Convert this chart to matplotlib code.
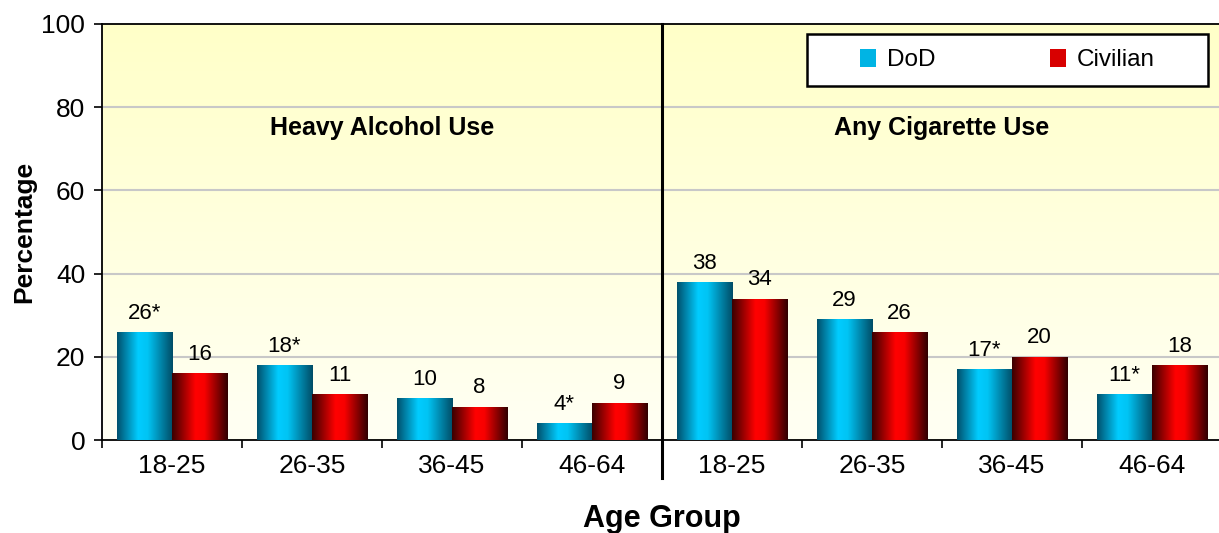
import numpy as np
import matplotlib.pyplot as plt
from matplotlib.colors import LinearSegmentedColormap
from matplotlib.patches import Rectangle

plt.rcParams['font.family'] = ['Liberation Sans', 'DejaVu Sans']

# Data
age_groups = ['18-25', '26-35', '36-45', '46-64']
panels = ['Heavy Alcohol Use', 'Any Cigarette Use']
dod = [26, 18, 10, 4, 38, 29, 17, 11]
civilian = [16, 11, 8, 9, 34, 26, 20, 18]
dod_labels = ['26*', '18*', '10', '4*', '38', '29', '17*', '11*']
civ_labels = ['16', '11', '8', '9', '34', '26', '20', '18']

# horizontal shading for the bars: dark edge -> bright -> dark edge
cyan_cm = LinearSegmentedColormap.from_list(
    'cyan_bar', [(0, '#00506c'), (0.38, '#00ccff'), (0.55, '#00c4f4'), (1, '#004c66')])
red_cm = LinearSegmentedColormap.from_list(
    'red_bar', [(0, '#3a0000'), (0.42, '#ff0000'), (0.58, '#f80000'), (1, '#300000')])
grad = np.linspace(0, 1, 256).reshape(1, -1)

W, H = 1219, 533
fig = plt.figure(figsize=(W / 100, H / 100), dpi=100)
ax = fig.add_axes([102 / W, 93 / H, 1120 / W, 416 / H])

# pale yellow background, fading downwards
bg_cm = LinearSegmentedColormap.from_list('bg', ['#fffff4', '#ffffc8'])
ax.imshow(np.linspace(0, 1, 256).reshape(-1, 1), cmap=bg_cm, origin='lower',
          extent=[0, 1, 0, 1], transform=ax.transAxes, aspect='auto', zorder=0)

x = np.arange(len(dod))
w = 0.393


def shaded_bars(xs, vals, cmap):
    bars = ax.bar(xs, vals, w, color='none', edgecolor='none', zorder=3)
    for b in bars:
        x0, y0 = b.get_x(), b.get_y()
        im = ax.imshow(grad, cmap=cmap, aspect='auto', zorder=3,
                       extent=[x0, x0 + b.get_width(), y0, y0 + b.get_height()])
        im.set_clip_path(b)
    return bars


shaded_bars(x - w / 2, dod, cyan_cm)
shaded_bars(x + w / 2, civilian, red_cm)

for xi, v, s in zip(x, dod, dod_labels):
    ax.text(xi - w / 2, v + 2, s, ha='center', va='bottom', fontsize=16, zorder=4)
for xi, v, s in zip(x, civilian, civ_labels):
    ax.text(xi + w / 2, v + 2, s, ha='center', va='bottom', fontsize=16, zorder=4)

ax.set_xlim(-0.5, len(dod) - 0.5)
ax.set_ylim(0, 100)
ax.set_yticks(range(0, 101, 20))
ax.set_xticks(x)
ax.set_xticklabels(age_groups * 2)
ax.set_xticks(np.arange(-0.5, len(dod), 1.0), minor=True)
ax.tick_params(axis='x', which='major', length=0, pad=10, labelsize=19)
ax.tick_params(axis='x', which='minor', length=6, width=1.2)
ax.tick_params(axis='y', length=6, width=1.2, labelsize=19, pad=6)
for yv in range(20, 100, 20):
    ax.axhline(yv, color='#c8c8c8', lw=1.5, zorder=1)

for sp in ax.spines.values():
    sp.set_linewidth(1.3)
ax.spines['right'].set_visible(False)

# divider between the two panels
ax.axvline(3.5, ymin=-0.092, ymax=1, color='black', lw=2.2, clip_on=False, zorder=5)

ax.text(1.5, 75, panels[0], ha='center', va='center', fontsize=18, fontweight='bold')
ax.text(5.5, 75, panels[1], ha='center', va='center', fontsize=18, fontweight='bold')

ax.set_ylabel('Percentage', fontsize=19, fontweight='bold', labelpad=4)
ax.set_xlabel('Age Group', fontsize=22, fontweight='bold', labelpad=19)

# legend box drawn separately so it can be wider than the entries
bx0, bx1 = (807 - 102) / 1120, (1208 - 102) / 1120
by0, by1 = (440 - 86) / 416, (440 - 34) / 416
ax.add_patch(Rectangle((bx0, by0), bx1 - bx0, by1 - by0, transform=ax.transAxes,
                       facecolor='white', edgecolor='black', lw=1.8, zorder=6))
handles = [Rectangle((0, 0), 1, 1, facecolor='#00b4e4'),
           Rectangle((0, 0), 1, 1, facecolor='#d80000')]
leg = ax.legend(handles, ['DoD', 'Civilian'], loc='center', ncol=2,
                bbox_to_anchor=((bx0 + bx1) / 2, (by0 + by1) / 2), fontsize=17.5,
                frameon=False, handlelength=0.65, handleheight=0.75,
                handletextpad=0.45, columnspacing=4.7, borderpad=0, borderaxespad=0)
leg.set_zorder(7)

fig.savefig('out.png', dpi=100)
